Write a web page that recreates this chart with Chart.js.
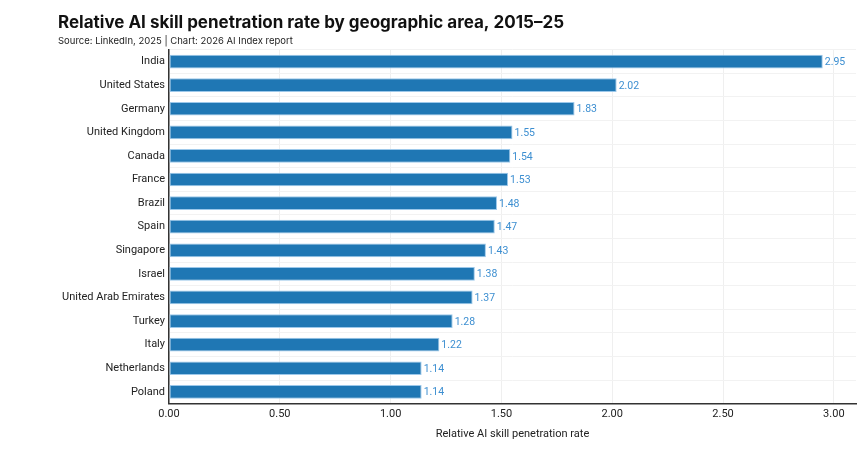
<!DOCTYPE html>
<html><head><meta charset="utf-8">
<script src="https://cdn.jsdelivr.net/npm/chart.js@4.4.1/dist/chart.umd.min.js"></script>
<style>html,body{margin:0;padding:0;background:#fff;}#wrap{width:861px;height:456px;}</style>
</head><body><div id="wrap"><canvas id="c" width="861" height="456"></canvas></div>
<script>
const categories = ["India","United States","Germany","United Kingdom","Canada","France","Brazil","Spain","Singapore","Israel","United Arab Emirates","Turkey","Italy","Netherlands","Poland"];
const values = [2.95,2.02,1.83,1.55,1.54,1.53,1.48,1.47,1.43,1.38,1.37,1.28,1.22,1.14,1.14];
const xTicks = [0,0.5,1,1.5,2,2.5,3];
const titleText = "Relative AI skill penetration rate by geographic area, 2015–25";
const subtitleText = "Source: LinkedIn, 2025 | Chart: 2026 AI Index report";
const xTitle = "Relative AI skill penetration rate";

const labelPlugin = {
  id: 'barLabels',
  afterDatasetsDraw(chart) {
    const ctx = chart.ctx;
    const meta = chart.getDatasetMeta(0);
    ctx.save();
    ctx.font = '10.5px Roboto, sans-serif';
    ctx.fillStyle = '#3d8fd1';
    ctx.textAlign = 'left';
    ctx.textBaseline = 'middle';
    meta.data.forEach((bar, i) => {
      ctx.fillText(values[i].toFixed(2), bar.x + 2, bar.y + 1);
    });
    ctx.restore();
  }
};

new Chart(document.getElementById('c'), {
  type: 'bar',
  data: {
    labels: categories,
    datasets: [{
      data: values,
      backgroundColor: '#1f77b4',
      borderColor: '#9cc8ea',
      borderWidth: 1,
      borderSkipped: false,
      barPercentage: 0.58,
      categoryPercentage: 1.0
    }]
  },
  options: {
    indexAxis: 'y',
    responsive: false,
    animation: false,
    layout: { padding: { left: 58, right: 5, top: 9, bottom: 15 } },
    plugins: {
      legend: { display: false },
      tooltip: { enabled: false },
      title: {
        display: true, text: titleText, align: 'start',
        color: '#111', font: { family: 'Inter, sans-serif', size: 17, weight: 'bold' },
        padding: { top: 4, bottom: 2 }
      },
      subtitle: {
        display: true, text: subtitleText, align: 'start',
        color: '#222', font: { family: 'Inter, sans-serif', size: 9.5 },
        padding: { top: 0, bottom: 3 }
      }
    },
    scales: {
      x: {
        min: 0, max: 3.1,
        afterBuildTicks(scale) { scale.ticks = xTicks.map(v => ({ value: v })); },
        ticks: {
          color: '#222', font: { family: 'Roboto, sans-serif', size: 11 },
          padding: 4,
          callback: v => Number(v).toFixed(2)
        },
        grid: { color: '#efefef', drawTicks: false },
        border: { color: '#333', width: 1.5 },
        title: {
          display: true, text: xTitle, color: '#222',
          font: { family: 'Roboto, sans-serif', size: 11 }, padding: { top: 3, bottom: 0 }
        }
      },
      y: {
        afterFit(scale) { scale.width = 111; },
        ticks: { color: '#222', font: { family: 'Roboto, sans-serif', size: 11 }, padding: 4 },
        grid: { color: '#f2f2f2', drawTicks: false, offset: true },
        border: { color: '#333', width: 1.5 }
      }
    }
  },
  plugins: [labelPlugin]
});
</script></body></html>
